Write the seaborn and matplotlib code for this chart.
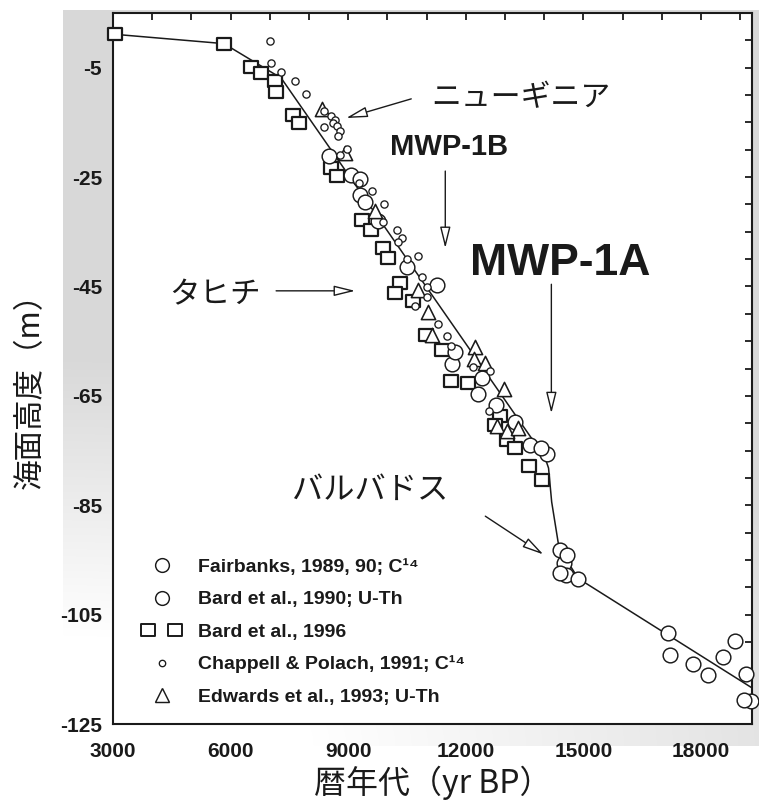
import numpy as np
import matplotlib
matplotlib.use("Agg")
import matplotlib.pyplot as plt
import seaborn as sns
from matplotlib.path import Path
from matplotlib.lines import Line2D
from matplotlib.legend_handler import HandlerTuple
from matplotlib.ticker import FixedLocator, MultipleLocator

# ---------------- data ----------------
fairbanks_age = [8515, 9070, 9300, 9750, 11255, 11655, 12300, 12760, 13635, 14060,
                 14400, 14510, 14545, 17170, 17805, 18550, 19150, 19270]
fairbanks_sl = [-21.2, -24.7, -28.2, -33.1, -44.7, -59.1, -64.7, -66.6, -74.0, -75.7,
                -93.2, -95.5, -97.8, -108.4, -114.0, -112.7, -115.8, -120.8]

bard90_age = [9300, 9440, 10510, 11720, 12400, 13250, 13930, 14570, 14400, 14870,
              17210, 18165, 18855, 19085]
bard90_sl = [-25.4, -29.6, -41.5, -57.0, -61.8, -69.7, -74.6, -94.1, -97.4, -98.5,
             -112.3, -116.0, -109.9, -120.6]

bard96_age = [3050, 5830, 6530, 6785, 7140, 7170, 7580, 7740, 8555, 8725, 9340, 9575,
              9875, 10005, 10320, 10190, 10660, 10995, 11380, 11620, 12065, 12870,
              12740, 13040, 13250, 13610, 13935]
bard96_sl = [1.1, -0.6, -4.8, -5.9, -7.4, -9.4, -13.7, -15.1, -23.3, -24.8, -32.8, -34.6,
             -38.0, -39.8, -44.4, -46.2, -47.6, -53.8, -56.6, -62.3, -62.7, -68.7,
             -70.3, -73.0, -74.6, -77.8, -80.4]

chappell_age = [7000, 7040, 7295, 7650, 7920, 8375, 8555, 8655, 8605, 8705, 8785, 8745,
                8375, 8965, 8785, 9275, 9610, 9920, 9890, 10250, 10375, 10260, 10770,
                10510, 10890, 11015, 11015, 10700, 11280, 11510, 11620, 12190, 12615, 12580]
chappell_sl = [-0.2, -4.2, -5.8, -7.5, -9.8, -12.9, -13.8, -14.5, -15.1, -15.6, -16.5, -17.5,
               -15.9, -19.8, -20.9, -26.1, -27.6, -30.0, -33.3, -34.6, -36.2, -36.9, -39.5,
               -39.9, -43.3, -45.1, -47.0, -48.5, -51.9, -54.1, -55.8, -59.7, -60.4, -67.7]

edwards_age = [8340, 8910, 9680, 10770, 11025, 11125, 12235, 12215, 12490, 12980,
               12790, 13040, 13340]
edwards_sl = [-12.6, -20.6, -31.2, -45.6, -49.6, -53.8, -56.0, -58.2, -59.0, -63.7,
              -70.6, -71.5, -70.9]

curve_age = [3050, 5830, 7290, 14020, 14110, 14190, 14380, 14870, 19300]
curve_sl = [1.1, -0.6, -6.9, -76.3, -78.2, -84.4, -92.9, -98.4, -118.4]

x_ticks = [3000, 6000, 9000, 12000, 15000, 18000]
x_ticklabels = ["3000", "6000", "9000", "12000", "15000", "18000"]
y_ticks = [-5, -25, -45, -65, -85, -105, -125]
y_ticklabels = ["-5", "-25", "-45", "-65", "-85", "-105", "-125"]

legend_labels = ["Fairbanks, 1989, 90; C¹⁴",
                 "Bard et al., 1990; U-Th",
                 "Bard et al., 1996",
                 "Chappell & Polach, 1991; C¹⁴",
                 "Edwards et al., 1993; U-Th"]

x_label = "暦年代（yr BP）"
y_label = "海面高度（m）"

# ---------------- style ----------------
sns.set_theme(style="white")
plt.rcParams['font.family'] = ['Liberation Sans', 'Noto Sans CJK JP', 'DejaVu Sans']
plt.rcParams['axes.unicode_minus'] = False

INK = '#1a1a1a'
W, H = 759, 800
fig = plt.figure(figsize=(W / 100, H / 100), dpi=100, facecolor='white')

# background shading (grey vignette behind the plot)
bg = fig.add_axes([0, 0, 1, 1], zorder=-10)
yy, xx = np.mgrid[0:H, 0:W]
r = np.sqrt(((xx - 63) / 250.0) ** 2 + ((745 - yy) / 110.0) ** 2)
v = 1 - 0.15 * np.clip((r - 1) / 2.5, 0, 1)
mask = (xx >= 63) & (yy >= 10) & (yy <= 745)
v = np.where(mask, v, 1.0)
bg.imshow(np.dstack([v, v, v]), extent=[0, W, H, 0], aspect='auto', interpolation='bilinear')
bg.set_xlim(0, W)
bg.set_ylim(H, 0)
bg.axis('off')

ax = fig.add_axes([113 / W, 1 - 724 / H, 639 / W, 711 / H])
ax.set_facecolor('white')

# rectangle marker (slightly wider than tall)
rect = Path([(-1.15, -1), (1.15, -1), (1.15, 1), (-1.15, 1), (-1.15, -1)], closed=True)

sns.lineplot(x=curve_age, y=curve_sl, sort=False, estimator=None, color=INK,
             linewidth=1.1, ax=ax, zorder=2)
sns.scatterplot(x=bard96_age, y=bard96_sl, marker=rect, s=110, color='white',
                edgecolor=INK, linewidth=1.6, ax=ax, zorder=3, clip_on=False, legend=False)
sns.scatterplot(x=fairbanks_age, y=fairbanks_sl, marker='o', s=112, color='white',
                edgecolor=INK, linewidth=1.05, ax=ax, zorder=4, clip_on=False, legend=False)
sns.scatterplot(x=bard90_age, y=bard90_sl, marker='o', s=112, color='white',
                edgecolor=INK, linewidth=1.05, ax=ax, zorder=4, clip_on=False, legend=False)
sns.scatterplot(x=edwards_age, y=edwards_sl, marker='^', s=105, color='white',
                edgecolor=INK, linewidth=1.15, ax=ax, zorder=5, legend=False)
sns.scatterplot(x=chappell_age, y=chappell_sl, marker='o', s=27, color='white',
                edgecolor=INK, linewidth=0.95, ax=ax, zorder=6, legend=False)

ax.set_xlim(3000, 19300)
ax.set_ylim(-125, 5)

ax.xaxis.set_major_locator(FixedLocator(x_ticks))
ax.set_xticklabels(x_ticklabels)
ax.xaxis.set_minor_locator(MultipleLocator(1000))
ax.yaxis.set_major_locator(FixedLocator(y_ticks))
ax.set_yticklabels(y_ticklabels)
ax.yaxis.set_minor_locator(MultipleLocator(5))

ax.tick_params(which='both', direction='in', top=True, right=True, length=4.8,
               width=1.3, color=INK)
ax.tick_params(axis='x', which='major', pad=13)
ax.tick_params(axis='y', which='major', pad=8)
for lab in ax.get_xticklabels() + ax.get_yticklabels():
    lab.set_fontfamily('Liberation Sans')
    lab.set_fontweight('bold')
    lab.set_fontsize(15)
    lab.set_color(INK)
for sp in ax.spines.values():
    sp.set_linewidth(1.5)
    sp.set_color(INK)
    sp.set_visible(True)

ax.set_xlabel(x_label, family=['Noto Sans CJK JP', 'DejaVu Sans'], fontsize=23, color=INK)
ax.set_ylabel(y_label, family=['Noto Sans CJK JP', 'DejaVu Sans'], fontsize=22, color=INK)
ax.xaxis.set_label_coords(0.5, -0.058)
ax.yaxis.set_label_coords(-0.105, 0.479)

# annotations
arrow_kw = dict(arrowstyle='-|>,head_length=1.3,head_width=0.32', mutation_scale=10,
                fc='white', ec=INK, lw=1.0, shrinkA=0, shrinkB=0)
jp = ['Noto Sans CJK JP', 'DejaVu Sans']
ax.text(13400, -10.4, "ニューギニア", family=jp, fontsize=21.5, ha='center', va='center', color=INK)
ax.annotate("", xy=(8949, -14.2), xytext=(10608, -10.7), arrowprops=arrow_kw)
ax.text(11578, -19.5, "MWP-1B", family='Liberation Sans', weight='bold', fontsize=21,
        ha='center', va='center', color=INK)
ax.annotate("", xy=(11476, -38.0), xytext=(11476, -23.9), arrowprops=arrow_kw)
ax.text(14412, -40.8, "MWP-1A", family='Liberation Sans', weight='bold', fontsize=32,
        ha='center', va='center', color=INK)
ax.annotate("", xy=(14182, -68.2), xytext=(14182, -44.6), arrowprops=arrow_kw)
ax.text(5604, -46.5, "タヒチ", family=jp, fontsize=22, ha='center', va='center', color=INK)
ax.annotate("", xy=(9178, -45.8), xytext=(7161, -45.8), arrowprops=arrow_kw)
ax.text(9550, -82.2, "バルバドス", family=jp, fontsize=22.5, ha='center', va='center', color=INK)
ax.annotate("", xy=(13978, -94.0), xytext=(12497, -87.0), arrowprops=arrow_kw)

# legend
def mk(marker, ms, mew):
    return Line2D([], [], linestyle='none', marker=marker, markersize=ms,
                  markerfacecolor='white', markeredgecolor=INK, markeredgewidth=mew)

handles = [mk('o', 9.9, 1.05), mk('o', 9.9, 1.05), (mk(rect, 9.9, 1.4), mk(rect, 9.9, 1.4)),
           mk('o', 4.6, 0.95), mk('^', 9.8, 1.05)]
leg = ax.legend(handles, legend_labels, handler_map={tuple: HandlerTuple(ndivide=None, pad=0)},
                loc='upper left', bbox_to_anchor=(0.034, 0.233), frameon=False,
                borderpad=0, borderaxespad=0, handlelength=2.78, handletextpad=0.49,
                labelspacing=0.76,
                prop={'family': ['Liberation Sans', 'DejaVu Sans'], 'weight': 'bold', 'size': 14})
for t in leg.get_texts():
    t.set_color(INK)

fig.savefig('out.png', dpi=100, facecolor='white')
